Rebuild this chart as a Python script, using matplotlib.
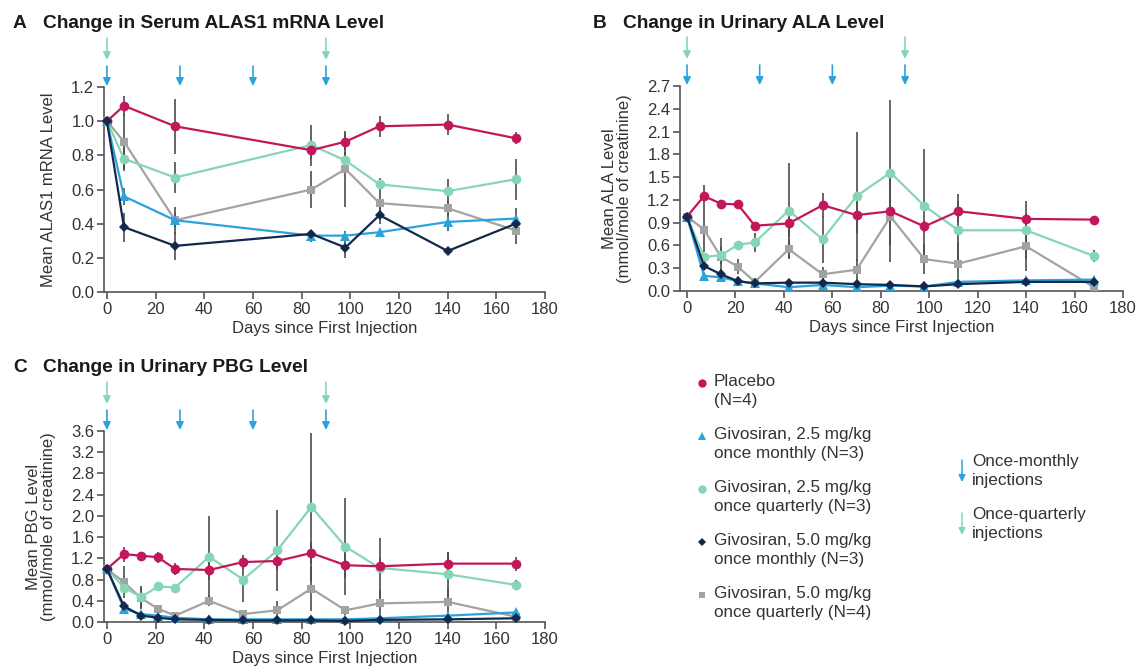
import matplotlib
matplotlib.use("Agg")
import matplotlib.pyplot as plt

plt.rcParams['font.family'] = ['Liberation Sans', 'DejaVu Sans']

# Colours for each treatment group
C_PLACEBO = '#c2185b'
C_25_M = '#2aa3dc'
C_25_Q = '#86d6b6'
C_50_M = '#13284a'
C_50_Q = '#a3a3a3'
C_ERR = '#4d4d4d'
C_TEXT = '#333333'

# ---- Panel A: serum ALAS1 mRNA ----
days_a = [0, 7, 28, 84, 98, 112, 140, 168]
alas_placebo = [1.00, 1.09, 0.97, 0.83, 0.88, 0.97, 0.98, 0.90]
alas_placebo_err = [0, 0.06, 0.16, 0.05, 0.05, 0.06, 0.06, 0.035]
alas_25m = [1.00, 0.56, 0.42, 0.33, 0.33, 0.35, 0.41, 0.43]
alas_25m_err = [0, 0.05, 0.04, 0.035, 0.025, 0.015, 0.055, 0.06]
alas_25q = [1.00, 0.78, 0.67, 0.86, 0.77, 0.63, 0.59, 0.66]
alas_25q_err = [0, 0.07, 0.09, 0.12, 0.05, 0.035, 0.07, 0.12]
alas_50m = [1.00, 0.38, 0.27, 0.34, 0.26, 0.45, 0.24, 0.40]
alas_50m_err = [0, 0.085, 0.08, 0.02, 0.06, 0.05, 0.01, 0.04]
alas_50q = [1.00, 0.88, 0.42, 0.60, 0.72, 0.52, 0.49, 0.36]
alas_50q_err = [0, 0.16, 0.08, 0.11, 0.22, 0.08, 0.04, 0.08]

# ---- Panel B: urinary ALA ----
days_bc = [0, 7, 14, 21, 28, 42, 56, 70, 84, 98, 112, 140, 168]
ala_placebo = [0.98, 1.25, 1.15, 1.14, 0.86, 0.89, 1.13, 1.00, 1.05, 0.85, 1.05, 0.95, 0.94]
ala_placebo_err = [0, 0.15, 0.04, 0.06, 0.03, 0.18, 0.16, 0.24, 0.14, 0.07, 0.14, 0.07, 0.03]
ala_25m = [0.98, 0.20, 0.18, 0.13, 0.10, 0.05, 0.08, 0.05, 0.07, 0.06, 0.12, 0.14, 0.15]
ala_25m_err = [0, 0.02, 0.03, 0.02, 0.02, 0.02, 0.02, 0.02, 0.02, 0.02, 0.04, 0.05, 0.04]
ala_25q = [0.98, 0.45, 0.47, 0.61, 0.64, 1.06, 0.68, 1.25, 1.56, 1.12, 0.80, 0.80, 0.46]
ala_25q_err = [0, 0.05, 0.11, 0.05, 0.13, 0.63, 0.31, 0.85, 0.96, 0.75, 0.48, 0.38, 0.08]
ala_50m = [0.98, 0.33, 0.22, 0.13, 0.10, 0.11, 0.11, 0.09, 0.08, 0.06, 0.09, 0.12, 0.12]
ala_50m_err = [0, 0.05, 0.07, 0.03, 0.03, 0.05, 0.05, 0.04, 0.03, 0.03, 0.05, 0.05, 0.08]
ala_50q = [0.98, 0.81, 0.45, 0.32, 0.12, 0.55, 0.22, 0.28, 0.98, 0.42, 0.36, 0.59, 0.05]
ala_50q_err = [0, 0.30, 0.25, 0.10, 0.05, 0.13, 0.10, 0.14, 0.60, 0.20, 0.28, 0.33, 0.03]

# ---- Panel C: urinary PBG ----
pbg_placebo = [1.00, 1.28, 1.25, 1.22, 1.00, 0.98, 1.13, 1.15, 1.30, 1.07, 1.05, 1.10, 1.10]
pbg_placebo_err = [0, 0.14, 0.04, 0.10, 0.12, 0.18, 0.13, 0.17, 0.20, 0.25, 0.15, 0.22, 0.13]
pbg_25m = [1.00, 0.25, 0.15, 0.12, 0.08, 0.05, 0.05, 0.05, 0.05, 0.05, 0.07, 0.12, 0.18]
pbg_25m_err = [0, 0.03, 0.03, 0.03, 0.02, 0.02, 0.02, 0.02, 0.02, 0.02, 0.03, 0.04, 0.04]
pbg_25q = [1.00, 0.65, 0.47, 0.67, 0.65, 1.23, 0.80, 1.35, 2.17, 1.42, 1.02, 0.90, 0.70]
pbg_25q_err = [0, 0.12, 0.20, 0.04, 0.03, 0.77, 0.42, 0.77, 1.39, 0.92, 0.57, 0.42, 0.10]
pbg_50m = [1.00, 0.30, 0.12, 0.08, 0.05, 0.04, 0.03, 0.03, 0.03, 0.02, 0.04, 0.05, 0.07]
pbg_50m_err = [0, 0.05, 0.04, 0.03, 0.02, 0.02, 0.02, 0.02, 0.02, 0.02, 0.02, 0.03, 0.03]
pbg_50q = [1.00, 0.75, 0.45, 0.25, 0.12, 0.40, 0.15, 0.22, 0.63, 0.22, 0.35, 0.38, 0.10]
pbg_50q_err = [0, 0.30, 0.20, 0.06, 0.06, 0.10, 0.08, 0.17, 0.43, 0.09, 0.26, 0.25, 0.05]

# Injection schedule (days)
monthly_doses = [0, 30, 60, 90]
quarterly_doses = [0, 90]

group_labels = ['Placebo\n(N=4)',
                'Givosiran, 2.5 mg/kg\nonce monthly (N=3)',
                'Givosiran, 2.5 mg/kg\nonce quarterly (N=3)',
                'Givosiran, 5.0 mg/kg\nonce monthly (N=3)',
                'Givosiran, 5.0 mg/kg\nonce quarterly (N=4)']
group_colors = [C_PLACEBO, C_25_M, C_25_Q, C_50_M, C_50_Q]
group_markers = ['o', '^', 'o', 'D', 's']
group_msize = [7, 7, 7, 5.5, 6]
# drawing order (back to front)
draw_order = [4, 2, 0, 1, 3]

FS = 12
fig = plt.figure(figsize=(11.39, 6.68), dpi=100)


def px_axes(left, top, right, bottom):
    W, H = 1139, 668
    return fig.add_axes([left / W, 1 - bottom / H, (right - left) / W, (bottom - top) / H])


def dose_arrow(ax, d, y_from, y_to, color):
    # y_from / y_to in pixels above the top of the axes
    h = ax.bbox.height
    tr = ax.get_xaxis_transform()
    ax.annotate('', xy=(d, 1 + y_to / h), xycoords=tr,
                xytext=(d, 1 + y_from / h), textcoords=tr,
                arrowprops=dict(arrowstyle='-|>,head_length=0.45,head_width=0.22',
                                color=color, lw=1.2, shrinkA=0, shrinkB=0))


def draw_panel(ax, days, series, errs, ymax, ystep, ylabel, xmin):
    for i in draw_order:
        ax.errorbar(days, series[i], yerr=errs[i], color=group_colors[i],
                    ecolor=C_ERR, elinewidth=1.2, capsize=5, capthick=1.2,
                    marker=group_markers[i], markersize=group_msize[i],
                    markeredgewidth=0, linewidth=1.6, clip_on=False, zorder=3)
    ax.set_xlim(xmin, 180)
    ax.set_ylim(0, ymax)
    ax.set_xticks(range(0, 181, 20))
    nt = int(round(ymax / ystep))
    ax.set_yticks([ystep * k for k in range(nt + 1)])
    ax.set_yticklabels([f'{ystep * k:.1f}' for k in range(nt + 1)])
    for s in ['top', 'right']:
        ax.spines[s].set_visible(False)
    for s in ['left', 'bottom']:
        ax.spines[s].set_color('#555555')
        ax.spines[s].set_linewidth(1.2)
    ax.tick_params(direction='out', length=5, width=1.2, color='#555555',
                   labelsize=FS, labelcolor=C_TEXT, pad=2)
    ax.set_xlabel('Days since First Injection', fontsize=FS, color=C_TEXT, labelpad=3)
    ax.set_ylabel(ylabel, fontsize=FS, color=C_TEXT, labelpad=11, linespacing=1.0)

    # injection arrows above the plotting area
    for d in monthly_doses:
        dose_arrow(ax, d, 21, 1, C_25_M)
    for d in quarterly_doses:
        dose_arrow(ax, d, 49, 27, C_25_Q)


def panel_title(letter, text, x_letter, x_text, y):
    fig.text(x_letter / 1139, 1 - y / 668, letter, fontsize=13.8,
             fontweight='bold', color='#1a1a1a', va='center', ha='left')
    fig.text(x_text / 1139, 1 - y / 668, text, fontsize=13.8,
             fontweight='bold', color='#1a1a1a', va='center', ha='left')


ax_a = px_axes(104, 87, 545, 292)
draw_panel(ax_a, days_a,
           [alas_placebo, alas_25m, alas_25q, alas_50m, alas_50q],
           [alas_placebo_err, alas_25m_err, alas_25q_err, alas_50m_err, alas_50q_err],
           1.2, 0.2, 'Mean ALAS1 mRNA Level', -1.2)
panel_title('A', 'Change in Serum ALAS1 mRNA Level', 13, 43, 24)

ax_b = px_axes(680, 86, 1123, 291)
draw_panel(ax_b, days_bc,
           [ala_placebo, ala_25m, ala_25q, ala_50m, ala_50q],
           [ala_placebo_err, ala_25m_err, ala_25q_err, ala_50m_err, ala_50q_err],
           2.7, 0.3, 'Mean ALA Level\n(mmol/mole of creatinine)', -2.9)
panel_title('B', 'Change in Urinary ALA Level', 593, 623, 24)

ax_c = px_axes(104, 431, 545, 622)
draw_panel(ax_c, days_bc,
           [pbg_placebo, pbg_25m, pbg_25q, pbg_50m, pbg_50q],
           [pbg_placebo_err, pbg_25m_err, pbg_25q_err, pbg_50m_err, pbg_50q_err],
           3.6, 0.4, 'Mean PBG Level\n(mmol/mole of creatinine)', -1.2)
panel_title('C', 'Change in Urinary PBG Level', 13, 43, 367)

# ---- Legend ----
lax = fig.add_axes([0, 0, 1, 1])
lax.set_xlim(0, 1139)
lax.set_ylim(668, 0)
lax.axis('off')
for k in range(5):
    y0 = 383 + 53 * k
    lax.plot([702], [y0], marker=group_markers[k], color=group_colors[k],
             markersize=group_msize[k] - 1, markeredgewidth=0, linestyle='none')
    lax.text(714, y0 - 9, group_labels[k], fontsize=12.3, color=C_TEXT,
             va='top', ha='left', linespacing=1.35)

arrow_items = [('Once-monthly\ninjections', C_25_M, 463),
               ('Once-quarterly\ninjections', C_25_Q, 516)]
for txt, col, y0 in arrow_items:
    lax.annotate('', xy=(962, y0 + 19), xytext=(962, y0 - 3),
                 arrowprops=dict(arrowstyle='-|>,head_length=0.4,head_width=0.2',
                                 color=col, lw=1.1, shrinkA=0, shrinkB=0))
    lax.text(972, y0 - 9, txt, fontsize=12.3, color=C_TEXT, va='top', ha='left',
             linespacing=1.35)

plt.savefig('out.png', dpi=100)
